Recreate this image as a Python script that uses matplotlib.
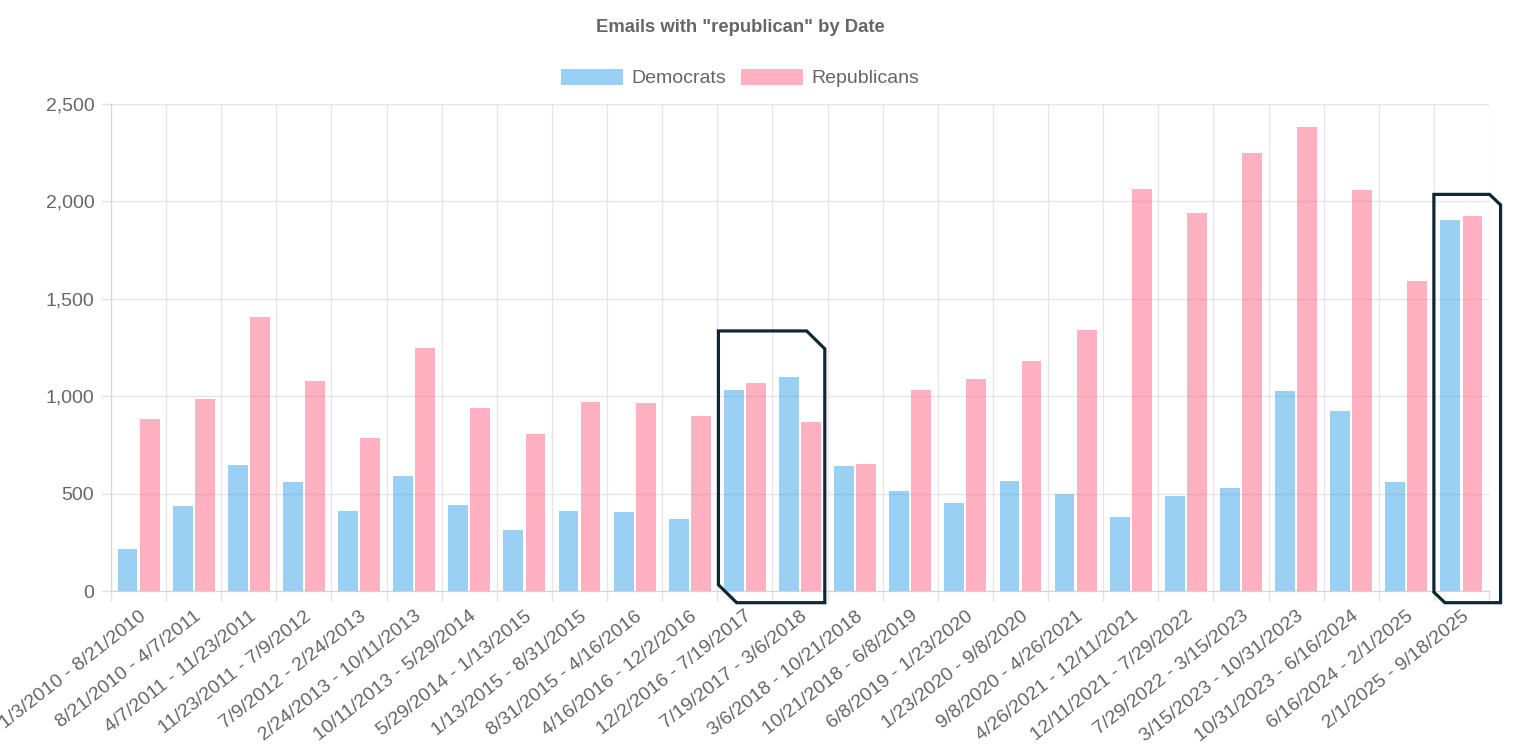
import matplotlib
matplotlib.use("Agg")
from matplotlib import pyplot as plt
from matplotlib.patches import Patch, Polygon
from matplotlib.ticker import FuncFormatter, FixedLocator
import numpy as np

periods = [
    "1/3/2010 - 8/21/2010", "8/21/2010 - 4/7/2011", "4/7/2011 - 11/23/2011",
    "11/23/2011 - 7/9/2012", "7/9/2012 - 2/24/2013", "2/24/2013 - 10/11/2013",
    "10/11/2013 - 5/29/2014", "5/29/2014 - 1/13/2015", "1/13/2015 - 8/31/2015",
    "8/31/2015 - 4/16/2016", "4/16/2016 - 12/2/2016", "12/2/2016 - 7/19/2017",
    "7/19/2017 - 3/6/2018", "3/6/2018 - 10/21/2018", "10/21/2018 - 6/8/2019",
    "6/8/2019 - 1/23/2020", "1/23/2020 - 9/8/2020", "9/8/2020 - 4/26/2021",
    "4/26/2021 - 12/11/2021", "12/11/2021 - 7/29/2022", "7/29/2022 - 3/15/2023",
    "3/15/2023 - 10/31/2023", "10/31/2023 - 6/16/2024", "6/16/2024 - 2/1/2025",
    "2/1/2025 - 9/18/2025",
]
democrats = [214, 436, 646, 561, 412, 588, 444, 311, 409, 407, 369, 1034, 1099,
             643, 512, 450, 566, 497, 381, 487, 528, 1029, 923, 562, 1906]
republicans = [884, 985, 1409, 1077, 785, 1245, 938, 805, 969, 966, 899, 1067, 867,
               651, 1031, 1089, 1179, 1340, 2062, 1940, 2248, 2383, 2060, 1590, 1925]

# hand-drawn highlight boxes: (left, right, top, corner cut x, corner cut y)
highlights = [(10.52, 12.45, 1335, 0.33, 92), (23.50, 24.71, 2036, 0.2, 54)]

plt.rcParams["font.family"] = ["Liberation Sans", "DejaVu Sans"]
grey = "#666666"
blue = (54 / 255, 162 / 255, 235 / 255, 0.5)
pink = (255 / 255, 99 / 255, 132 / 255, 0.5)

fig = plt.figure(figsize=(15.34, 7.46), dpi=100)
ax = fig.add_axes([111 / 1534, 155 / 746, 1378 / 1534, 487 / 746])

x = np.arange(len(periods))
ax.bar(x - 0.2, democrats, width=0.36, color=blue, zorder=2)
ax.bar(x + 0.2, republicans, width=0.36, color=pink, zorder=2)

ax.set_xlim(-0.5, len(periods) - 0.5)
ax.set_ylim(0, 2500)
ax.set_yticks(range(0, 2501, 500))
ax.yaxis.set_major_formatter(FuncFormatter(lambda v, p: f"{int(v):,}"))
ax.set_xticks(x)
ax.set_xticklabels(periods, rotation=38, ha="right", va="top",
                   rotation_mode="anchor", fontsize=14, color=grey)
ax.xaxis.set_minor_locator(FixedLocator(np.arange(-0.5, len(periods), 1.0)))
ax.tick_params(axis="x", which="major", length=0, pad=12)
ax.tick_params(axis="x", which="minor", length=7, color="#e2e2e2", width=1)
ax.tick_params(axis="y", length=7, color="#e2e2e2", width=1, pad=5,
               labelsize=14, labelcolor=grey)
ax.grid(True, axis="x", which="minor", color="#e6e6e6", linewidth=1, zorder=0)
ax.grid(True, axis="y", which="major", color="#e6e6e6", linewidth=1, zorder=0)
ax.grid(False, axis="x", which="major")
ax.set_axisbelow(True)
for side in ["top", "right"]:
    ax.spines[side].set_visible(False)
for side in ["left", "bottom"]:
    ax.spines[side].set_color("#d4d4d4")

for left, right, top, cx, cy in highlights:
    bottom = -60
    pts = [(left, top), (right - cx, top), (right, top - cy), (right, bottom),
           (left + cx, bottom), (left, bottom + cy)]
    ax.add_patch(Polygon(pts, closed=True, fill=False, edgecolor="#0f2735",
                         linewidth=2.3, joinstyle="miter", clip_on=False, zorder=5))

fig.text(740 / 1534, 1 - 28 / 746, 'Emails with "republican" by Date',
         ha="center", va="center", fontsize=13.3, fontweight="bold", color=grey)
handles = [Patch(facecolor=blue, label="Democrats"),
           Patch(facecolor=pink, label="Republicans")]
fig.legend(handles=handles, loc="center", bbox_to_anchor=(740 / 1534, 1 - 78 / 746),
           ncol=2, frameon=False, fontsize=14, handlelength=3.2, handleheight=0.9,
           handletextpad=0.4, columnspacing=0.8, labelcolor=grey)

fig.savefig("out.png", dpi=100)
